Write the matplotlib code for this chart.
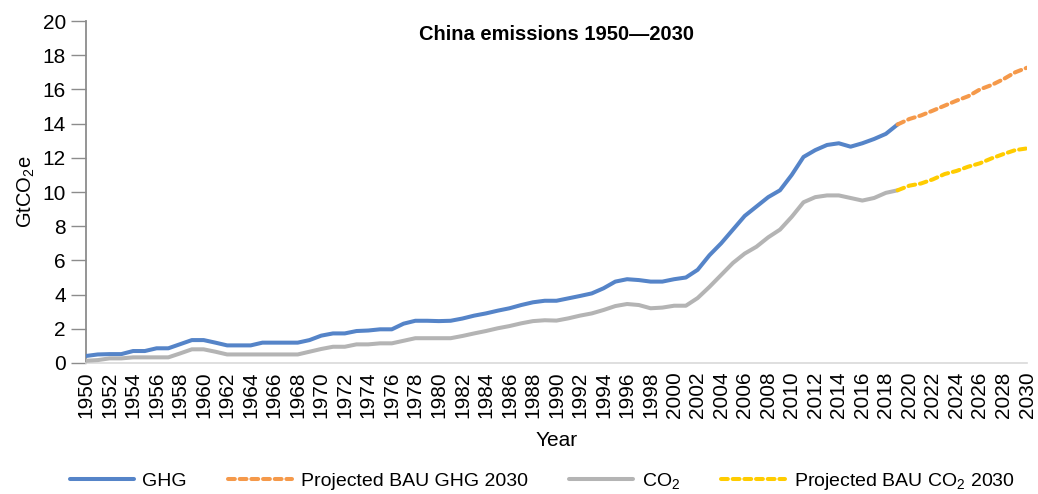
import matplotlib
matplotlib.use("Agg")
import matplotlib.pyplot as plt

plt.rcParams['font.family'] = ['Liberation Sans', 'DejaVu Sans']
plt.rcParams['mathtext.fontset'] = 'custom'
plt.rcParams['mathtext.rm'] = 'Liberation Sans'
plt.rcParams['mathtext.default'] = 'regular'

years_hist = list(range(1950, 2020))
ghg = [0.41, 0.50, 0.52, 0.52, 0.70, 0.70, 0.86, 0.86, 1.10, 1.34,
       1.34, 1.19, 1.03, 1.03, 1.03, 1.19, 1.19, 1.19, 1.19, 1.34,
       1.60, 1.73, 1.73, 1.87, 1.90, 1.97, 1.97, 2.30, 2.47, 2.47,
       2.45, 2.47, 2.60, 2.77, 2.90, 3.06, 3.20, 3.39, 3.55, 3.64,
       3.64, 3.78, 3.92, 4.07, 4.37, 4.76, 4.90, 4.85, 4.76, 4.76,
       4.90, 5.00, 5.45, 6.30, 7.00, 7.80, 8.60, 9.15, 9.70, 10.10,
       11.00, 12.05, 12.45, 12.75, 12.85, 12.65, 12.85, 13.10, 13.40, 13.95]
co2 = [0.13, 0.17, 0.27, 0.27, 0.33, 0.33, 0.33, 0.33, 0.56, 0.80,
       0.80, 0.66, 0.50, 0.50, 0.50, 0.50, 0.50, 0.50, 0.50, 0.66,
       0.82, 0.95, 0.95, 1.09, 1.09, 1.15, 1.15, 1.30, 1.45, 1.45,
       1.45, 1.45, 1.58, 1.73, 1.87, 2.03, 2.16, 2.32, 2.45, 2.50,
       2.48, 2.61, 2.77, 2.90, 3.10, 3.33, 3.45, 3.39, 3.20, 3.24,
       3.35, 3.35, 3.80, 4.45, 5.15, 5.85, 6.40, 6.80, 7.35, 7.80,
       8.55, 9.40, 9.70, 9.80, 9.80, 9.65, 9.50, 9.65, 9.95, 10.10]

years_proj = list(range(2019, 2031))
ghg_proj = [13.95, 14.27, 14.48, 14.76, 15.05, 15.34, 15.60, 16.00, 16.26, 16.60, 17.00, 17.27]
co2_proj = [10.10, 10.37, 10.50, 10.74, 11.05, 11.23, 11.48, 11.68, 11.97, 12.22, 12.45, 12.55]

xtick_years = list(range(1950, 2031, 2))

fig = plt.figure(figsize=(10.38, 4.94), dpi=100)
ax = fig.add_axes([86/1038, 1-363/494, (1027-86)/1038, (363-21)/494])

lw = 2.9
ax.plot(years_hist, ghg, color='#5584c8', lw=lw, solid_capstyle='round', label='GHG', zorder=3)
ax.plot(years_proj, ghg_proj, color='#f5994a', lw=lw, linestyle=(0, (1.7, 1.2)),
        dash_capstyle='round', label='Projected BAU GHG 2030', zorder=3)
ax.plot(years_hist, co2, color='#b4b4b4', lw=lw, solid_capstyle='round', label='CO$_2$', zorder=3)
ax.plot(years_proj, co2_proj, color='#ffcc00', lw=lw, linestyle=(0, (1.7, 1.2)),
        dash_capstyle='round', label='Projected BAU CO$_2$ 2030', zorder=3)

ax.set_xlim(1950, 2030)
ax.set_ylim(0, 20)
ax.set_yticks(range(0, 21, 2))
ax.set_xticks(xtick_years)
ax.set_xticklabels([str(y) for y in xtick_years], rotation=90)

for s in ['top', 'right']:
    ax.spines[s].set_visible(False)
ax.spines['left'].set_color('#8c8c8c')
ax.spines['left'].set_linewidth(1.3)
ax.spines['bottom'].set_color('#d9d9d9')
ax.spines['bottom'].set_linewidth(1.2)

ax.tick_params(axis='y', length=11, width=1, color='#8c8c8c', pad=3.5, labelsize=15)
ax.tick_params(axis='x', length=0, pad=6, labelsize=15)

ax.set_ylabel('GtCO$_2$e', fontsize=14.5, labelpad=4)
ax.set_xlabel('Year', fontsize=15, labelpad=9)
ax.set_title('China emissions 1950\u20142030', fontsize=14.5, fontweight='bold', pad=-14, y=1.0)

fig.legend(loc='center', bbox_to_anchor=(542/1038, 13/494), ncol=4, frameon=False,
           fontsize=14, handlelength=3.3, handletextpad=0.45, columnspacing=2.1)

fig.savefig('out.png', dpi=100)
